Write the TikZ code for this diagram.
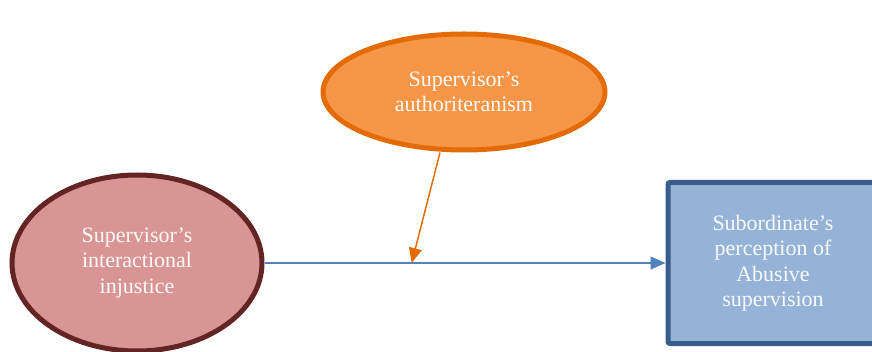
\documentclass[tikz,border=0pt]{standalone}
\usepackage{fontspec}
\setmainfont{Liberation Serif}
\usetikzlibrary{shapes.geometric,arrows.meta}
\definecolor{pinkfill}{HTML}{D99594}
\definecolor{pinkline}{HTML}{632523}
\definecolor{orangefill}{HTML}{F79646}
\definecolor{orangeline}{HTML}{E36C09}
\definecolor{bluefill}{HTML}{95B3D7}
\definecolor{blueline}{HTML}{385D8A}
\definecolor{arrowblue}{HTML}{4F81BD}
\tikzset{
  lbl/.style={text=white!95!gray, font=\fontsize{22}{25.5}\selectfont, align=center},
  oval/.style={ellipse, inner sep=0pt, line width=5pt},
  box/.style={rectangle, inner sep=0pt, line width=5pt, rounded corners=2pt},
}
\begin{document}
\begin{tikzpicture}[x=1pt,y=1pt]
  \useasboundingbox (0,0) rectangle (872,351);
  \clip (0,0) rectangle (872,351);
  % independent variable
  \node[oval, draw=pinkline, fill=pinkfill, minimum width=250, minimum height=176] (iv) at (137,88) {};
  \node[lbl] at (iv.center) {Supervisor’s\\interactional\\injustice};
  % moderator
  \node[oval, draw=orangeline, fill=orangefill, minimum width=282, minimum height=116] (mod) at (464,259) {};
  \node[lbl] at (mod.center) {Supervisor’s\\authoriteranism};
  % outcome
  \node[box, draw=blueline, fill=bluefill, minimum width=210, minimum height=161] (dv) at (773,88) {};
  \node[lbl] at (dv.center) {Subordinate’s\\perception of\\Abusive\\supervision};
  % main path
  \draw[arrowblue, line width=1.3pt, -{Triangle[length=15pt,width=13pt]}] (iv.east) -- (dv.west)
    coordinate[pos=0.367] (hit);
  % moderating effect
  \draw[orangeline, line width=1.5pt, -{Triangle[length=15pt,width=13pt]}] (mod.south) ++(-24,0) coordinate (src) (src) -- (hit);
\end{tikzpicture}
\end{document}
